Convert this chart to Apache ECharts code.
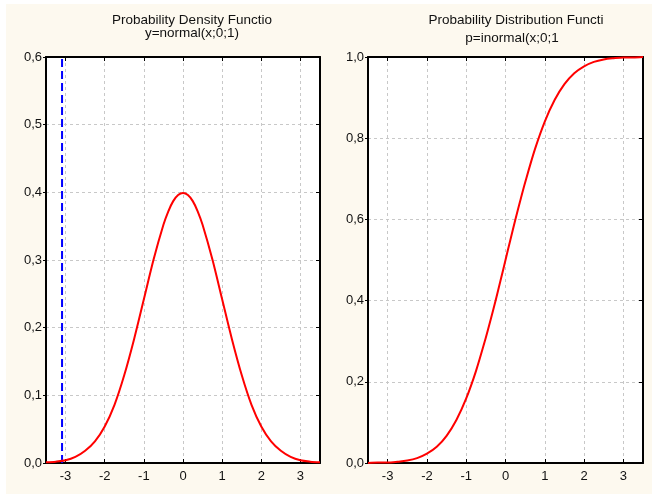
<!DOCTYPE html>
<html>
<head>
<meta charset="utf-8">
<script src="https://cdn.jsdelivr.net/npm/echarts@6/dist/echarts.min.js"></script>
<style>
	html, body { margin: 0; padding: 0; background: #fff; }
	#chart { width: 652px; height: 494px; }
</style>
</head>
<body>
<div id="chart"></div>
<script>
// values
var xValues = [-3.5, -3.25, -3, -2.75, -2.5, -2.25, -2, -1.75, -1.5, -1.25, -1, -0.75, -0.5, -0.375, -0.25, -0.125, 0,
	0.125, 0.25, 0.375, 0.5, 0.75, 1, 1.25, 1.5, 1.75, 2, 2.25, 2.5, 2.75, 3, 3.25, 3.5];
var pdfValues = [0.001, 0.002, 0.004, 0.009, 0.018, 0.032, 0.054, 0.086, 0.130, 0.183, 0.242, 0.301, 0.352, 0.372, 0.387, 0.396, 0.399,
	0.396, 0.387, 0.372, 0.352, 0.301, 0.242, 0.183, 0.130, 0.086, 0.054, 0.032, 0.018, 0.009, 0.004, 0.002, 0.001];
var cdfValues = [0.000, 0.001, 0.001, 0.003, 0.006, 0.012, 0.023, 0.040, 0.067, 0.106, 0.159, 0.227, 0.309, 0.354, 0.401, 0.450, 0.500,
	0.550, 0.599, 0.646, 0.691, 0.773, 0.841, 0.894, 0.933, 0.960, 0.977, 0.988, 0.994, 0.997, 0.999, 0.999, 1.000];
var cutoffX = -3.09;
var cutoffY = [0, 0.6];

var titles = [
	['Probability Density Functio', 'y=normal(x;0;1)'],
	['Probability Distribution Functi', 'p=inormal(x;0;1']
];

var chart = echarts.init(document.getElementById('chart'));

function pair(xs, ys) {
	return xs.map(function(x, i) { return [x, ys[i]]; });
}

function commaFmt(v) {
	return v.toFixed(1).replace('.', ',');
}

var frameLine = { show: true, onZero: false, lineStyle: { color: '#000', width: 2 } };
var gridDash = { show: true, lineStyle: { color: '#c8c8c8', type: [3, 3] } };

function xAxisBottom(grid) {
	return {
		type: 'value', gridIndex: grid, position: 'bottom',
		min: -3.5, max: 3.5, splitNumber: 7,
		axisLine: frameLine,
		axisTick: { show: true, inside: true, length: 4, lineStyle: { color: '#000' } },
		axisLabel: { showMinLabel: false, showMaxLabel: false, color: '#111', fontSize: 13,
			fontFamily: 'Liberation Sans', margin: 7 },
		splitLine: gridDash
	};
}
function xAxisTop(grid) {
	return {
		type: 'value', gridIndex: grid, position: 'top',
		min: -3.5, max: 3.5, splitNumber: 7,
		axisLine: frameLine,
		axisTick: { show: true, inside: true, length: 4, lineStyle: { color: '#000' } },
		axisLabel: { show: false },
		splitLine: { show: false }
	};
}
function yAxisLeft(grid, max, step) {
	return {
		type: 'value', gridIndex: grid, position: 'left',
		min: 0, max: max, interval: step,
		axisLine: frameLine,
		axisTick: { show: true, inside: false, length: 3, lineStyle: { color: '#000' } },
		axisLabel: { formatter: commaFmt, color: '#111', fontSize: 13,
			fontFamily: 'Liberation Sans', margin: 4 },
		splitLine: gridDash
	};
}
function yAxisRight(grid, max, step) {
	return {
		type: 'value', gridIndex: grid, position: 'right',
		min: 0, max: max, interval: step,
		axisLine: frameLine,
		axisTick: { show: true, inside: true, length: 4, lineStyle: { color: '#000' } },
		axisLabel: { show: false },
		splitLine: { show: false }
	};
}

var titleFont = { fontSize: 13.5, fontFamily: 'Liberation Sans', fill: '#111', align: 'center', verticalAlign: 'middle' };

var option = {
	backgroundColor: '#fff',
	animation: false,
	graphic: [
		{ type: 'rect', z: -10, shape: { x: 6, y: 4, width: 646, height: 490 }, style: { fill: '#fdf9ef' } },
		{ type: 'text', x: 192, y: 20, style: Object.assign({ text: titles[0][0] }, titleFont) },
		{ type: 'text', x: 192, y: 33, style: Object.assign({ text: titles[0][1] }, titleFont) },
		{ type: 'text', x: 516, y: 20, style: Object.assign({ text: titles[1][0] }, titleFont) },
		{ type: 'text', x: 512, y: 38, style: Object.assign({ text: titles[1][1] }, titleFont) }
	],
	grid: [
		{ left: 46, top: 57, width: 274, height: 406, show: true, backgroundColor: '#fff', borderWidth: 0 },
		{ left: 368, top: 57, width: 275, height: 406, show: true, backgroundColor: '#fff', borderWidth: 0 }
	],
	xAxis: [xAxisBottom(0), xAxisTop(0), xAxisBottom(1), xAxisTop(1)],
	yAxis: [yAxisLeft(0, 0.6, 0.1), yAxisRight(0, 0.6, 0.1), yAxisLeft(1, 1.0, 0.2), yAxisRight(1, 1.0, 0.2)],
	series: [
		{
			name: 'cutoff', type: 'line', xAxisIndex: 0, yAxisIndex: 0,
			data: cutoffY.map(function(y) { return [cutoffX, y]; }),
			showSymbol: false, silent: true,
			lineStyle: { color: '#0000ff', width: 2, type: [8, 4] }
		},
		{
			name: 'pdf', type: 'line', xAxisIndex: 0, yAxisIndex: 0,
			data: pair(xValues, pdfValues), smooth: 0.3, showSymbol: false,
			lineStyle: { color: '#ff0000', width: 2 }
		},
		{
			name: 'cdf', type: 'line', xAxisIndex: 2, yAxisIndex: 2,
			data: pair(xValues, cdfValues), smooth: 0.3, showSymbol: false,
			lineStyle: { color: '#ff0000', width: 2 }
		}
	]
};

chart.setOption(option);
</script>
</body>
</html>
